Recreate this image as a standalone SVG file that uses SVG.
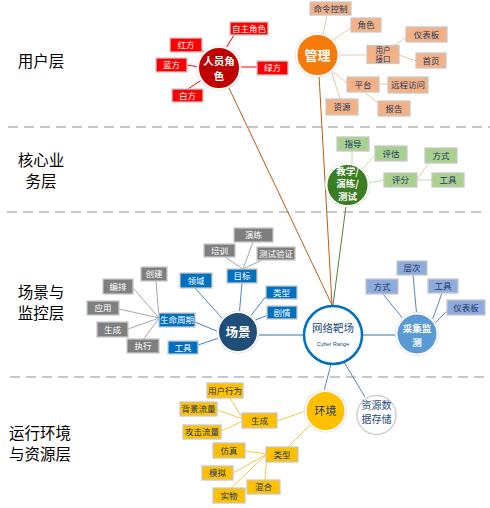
<svg xmlns="http://www.w3.org/2000/svg" width="490" height="508" viewBox="0 0 490 508">
<style>
text{font-family:"Noto Sans CJK SC","Noto Sans",sans-serif;text-anchor:middle}
.lay{font-size:15.5px;fill:#000}
.bt{font-size:8.5px}
.w{fill:#fff}
.d{fill:#203864}
.box{stroke:#c8c8c8;stroke-width:1.3}
.red{fill:#ff0000}.org{fill:#f4b183}.grn{fill:#a9d18e}.blu{fill:#0070c0}.gry{fill:#7f7f7f}.pur{fill:#8faadc}.yel{fill:#ffc000}
.halo{fill:#d4d4d4}
.cir{stroke:#fff;stroke-width:2}
.ct{font-size:10.5px;font-weight:bold}
.dash{stroke:#c8c8c8;stroke-width:2;stroke-dasharray:10 6;fill:none}
#connectors line{fill:none;stroke-width:1}
.lr{stroke:#ff0000}.lo{stroke:#e9c9ad}.lg{stroke:#c0dca8}.lb{stroke:#4a86c5}.lgy{stroke:#a6a6a6}.lp{stroke:#5b87b5}.ly{stroke:#f5c842}
.lbr{stroke:#c55a11}.lgd{stroke:#548235}.lm{stroke:#2e75b6}
</style>
<rect width="490" height="508" fill="#fff"/>
<g id="separators">
<line class="dash" x1="8" y1="127" x2="490" y2="127"/>
<line class="dash" x1="7" y1="212" x2="486" y2="212"/>
<line class="dash" x1="10" y1="377" x2="486" y2="377"/>
</g>
<g id="layer-labels">
<text class="lay" x="41" y="67">用户层</text>
<text class="lay" x="41" y="165.5">核心业</text>
<text class="lay" x="41" y="186.5">务层</text>
<text class="lay" x="41" y="298">场景与</text>
<text class="lay" x="41" y="319">监控层</text>
<text class="lay" x="40" y="438.5">运行环境</text>
<text class="lay" x="40" y="459.5">与资源层</text>
</g>
<g id="connectors">
<line class="lbr" x1="228" y1="86" x2="332" y2="305"/>
<line class="lbr" x1="319" y1="75" x2="332" y2="305"/>
<line class="lgd" x1="346" y1="206" x2="333" y2="305"/>
<line class="lr" x1="226" y1="48" x2="234" y2="35"/>
<line class="lr" x1="201" y1="48" x2="205" y2="55"/>
<line class="lr" x1="187" y1="65" x2="199" y2="67"/>
<line class="lr" x1="240" y1="67" x2="257" y2="67"/>
<line class="lr" x1="188" y1="89" x2="203" y2="79"/>
<line class="lo" x1="323" y1="35" x2="327" y2="15"/>
<line class="lo" x1="333" y1="40" x2="352" y2="27"/>
<line class="lo" x1="338" y1="55" x2="367" y2="55"/>
<line class="lo" x1="392" y1="47" x2="407" y2="37"/>
<line class="lo" x1="399" y1="55" x2="416" y2="61"/>
<line class="lo" x1="333" y1="72" x2="347" y2="83"/>
<line class="lo" x1="379" y1="84" x2="388" y2="84"/>
<line class="lo" x1="364" y1="92" x2="378" y2="103"/>
<line class="lo" x1="332" y1="73" x2="340" y2="99"/>
<line class="lg" x1="352" y1="164" x2="352" y2="151"/>
<line class="lg" x1="362" y1="169" x2="377" y2="153"/>
<line class="lg" x1="368" y1="183" x2="384" y2="180"/>
<line class="lg" x1="417" y1="179" x2="430" y2="162"/>
<line class="lg" x1="417" y1="180" x2="432" y2="180"/>
<line class="lb" x1="239" y1="317" x2="242" y2="283"/>
<line class="lb" x1="249" y1="318" x2="267" y2="295"/>
<line class="lb" x1="253" y1="321" x2="268" y2="315"/>
<line class="lb" x1="195" y1="288" x2="222" y2="318"/>
<line class="lb" x1="195" y1="322" x2="219" y2="332"/>
<line class="lb" x1="198" y1="345" x2="219" y2="338"/>
<line class="lm" x1="258" y1="335" x2="303" y2="335"/>
<line class="lgy" x1="243" y1="269" x2="225" y2="257"/>
<line class="lgy" x1="243" y1="269" x2="253" y2="242"/>
<line class="lgy" x1="243" y1="269" x2="262" y2="260"/>
<line class="lgy" x1="159" y1="318" x2="156" y2="281"/>
<line class="lgy" x1="159" y1="318" x2="133" y2="288"/>
<line class="lgy" x1="159" y1="318" x2="119" y2="309"/>
<line class="lgy" x1="159" y1="318" x2="128" y2="329"/>
<line class="lgy" x1="159" y1="318" x2="143" y2="340"/>
<line class="lm" x1="363" y1="335" x2="397" y2="335"/>
<line class="lp" x1="417" y1="318" x2="413" y2="275"/>
<line class="lp" x1="404" y1="320" x2="383" y2="294"/>
<line class="lp" x1="432" y1="321" x2="442" y2="293"/>
<line class="lp" x1="435" y1="323" x2="448" y2="310"/>
<line class="lp" x1="331" y1="364" x2="324" y2="391"/>
<line class="lp" x1="344" y1="362" x2="365" y2="397"/>
<line class="ly" x1="306" y1="411" x2="277" y2="421"/>
<line class="ly" x1="311" y1="424" x2="288" y2="447"/>
<line class="ly" x1="243" y1="419" x2="230" y2="398"/>
<line class="ly" x1="243" y1="419" x2="217" y2="410"/>
<line class="ly" x1="243" y1="421" x2="221" y2="431"/>
<line class="ly" x1="267" y1="454" x2="245" y2="451"/>
<line class="ly" x1="267" y1="454" x2="233" y2="473"/>
<line class="ly" x1="267" y1="454" x2="231" y2="488"/>
<line class="ly" x1="267" y1="454" x2="265" y2="480"/>
</g>
<g id="n-renyuan"><circle class="halo" cx="219" cy="68" r="22.5"/><circle class="cir" cx="219" cy="68" r="21" fill="#c00000"/><text class="ct w" x="219" y="65">人员角<tspan x="219" dy="14.5">色</tspan></text></g>
<g id="n-zizhu"><rect class="box red" x="230" y="22" width="38" height="13"/><text class="bt w" x="249" y="31.5">自主角色</text></g>
<g id="n-hongfang"><rect class="box red" x="170" y="38" width="32" height="14"/><text class="bt w" x="186" y="48">红方</text></g>
<g id="n-lanfang"><rect class="box red" x="156" y="58" width="31" height="14"/><text class="bt w" x="171.5" y="68">蓝方</text></g>
<g id="n-lvfang"><rect class="box red" x="257" y="61" width="31" height="14"/><text class="bt w" x="272.5" y="71">绿方</text></g>
<g id="n-baifang"><rect class="box red" x="172" y="89" width="31" height="13"/><text class="bt w" x="187.5" y="98.5">白方</text></g>

<g id="n-guanli"><circle class="halo" cx="317.5" cy="55" r="22.5"/><circle class="cir" cx="317.5" cy="55" r="21" fill="#f47a0a"/><text class="w" x="317.5" y="60" style="font-size:13px;font-weight:bold">管理</text></g>
<g id="n-mingling"><rect class="box org" x="310" y="2" width="41" height="13"/><text class="bt d" x="330.5" y="11.5">命令控制</text></g>
<g id="n-juese"><rect class="box org" x="351" y="18" width="30" height="14"/><text class="bt d" x="366" y="28">角色</text></g>
<g id="n-yonghujiekou"><rect class="box org" x="367" y="45.5" width="32" height="18"/><text class="d" x="383" y="52.8" style="font-size:7.5px">用户<tspan x="383" dy="9.5">接口</tspan></text></g>
<g id="n-yibiaoban1"><rect class="box org" x="406" y="27" width="41" height="15"/><text class="bt d" x="426.5" y="37.5">仪表板</text></g>
<g id="n-shouye"><rect class="box org" x="416" y="53" width="30" height="15"/><text class="bt d" x="431" y="63.5">首页</text></g>
<g id="n-pingtai"><rect class="box org" x="347" y="77" width="32" height="15"/><text class="bt d" x="363" y="87.5">平台</text></g>
<g id="n-yuancheng"><rect class="box org" x="388" y="77" width="40" height="16"/><text class="bt d" x="408" y="88">远程访问</text></g>
<g id="n-ziyuan"><rect class="box org" x="326" y="99" width="32" height="16"/><text class="bt d" x="342" y="110">资源</text></g>
<g id="n-baogao"><rect class="box org" x="378" y="101" width="32" height="15"/><text class="bt d" x="394" y="111.5">报告</text></g>

<g id="n-jiaoxue"><circle class="halo" cx="347.5" cy="185" r="22.5"/><circle class="cir" cx="347.5" cy="185" r="21" fill="#3a7d22"/><text class="w" x="347.5" y="174.5" style="font-size:9.5px;font-weight:bold">教学/<tspan x="347.5" dy="12.5">演练/</tspan><tspan x="347.5" dy="12.5">测试</tspan></text></g>
<g id="n-zhidao"><rect class="box grn" x="337" y="137" width="32" height="14"/><text class="bt d" x="353" y="147">指导</text></g>
<g id="n-pinggu"><rect class="box grn" x="375" y="146" width="32" height="15"/><text class="bt d" x="391" y="156.5">评估</text></g>
<g id="n-fangshi1"><rect class="box grn" x="425" y="148" width="32" height="15"/><text class="bt d" x="441" y="158.5">方式</text></g>
<g id="n-pingfen"><rect class="box grn" x="384" y="173" width="33" height="14"/><text class="bt d" x="400.5" y="183">评分</text></g>
<g id="n-gongju1"><rect class="box grn" x="432" y="173" width="32" height="14"/><text class="bt d" x="448" y="183">工具</text></g>

<g id="n-changjing"><circle class="halo" cx="238" cy="332" r="21.5"/><circle class="cir" cx="238" cy="332" r="20" fill="#1f4e79"/><text class="w" x="238" y="336.5" style="font-size:12.5px;font-weight:bold">场景</text></g>
<g id="n-mubiao"><rect class="box blu" x="227" y="269" width="30" height="14"/><text class="bt w" x="242" y="279">目标</text></g>
<g id="n-leixing1"><rect class="box blu" x="266" y="286" width="31" height="13"/><text class="bt w" x="281.5" y="295.5">类型</text></g>
<g id="n-juqing"><rect class="box blu" x="267" y="306" width="30" height="13"/><text class="bt w" x="282" y="315.5">剧情</text></g>
<g id="n-lingyu"><rect class="box blu" x="180" y="273" width="32" height="15"/><text class="bt w" x="196" y="283.5">领域</text></g>
<g id="n-shengming"><rect class="box blu" x="159" y="313" width="36" height="14"/><text class="bt w" x="177" y="323">生命周期</text></g>
<g id="n-gongju2"><rect class="box blu" x="168" y="341" width="30" height="13"/><text class="bt w" x="183" y="350.5">工具</text></g>
<g id="n-peixun"><rect class="box gry" x="204" y="244" width="31" height="13"/><text class="bt w" x="219.5" y="253.5">培训</text></g>
<g id="n-yanlian"><rect class="box gry" x="234" y="228" width="39" height="14"/><text class="bt w" x="253.5" y="238">演练</text></g>
<g id="n-ceshi"><rect class="box gry" x="257" y="247" width="38" height="13"/><text class="bt w" x="276" y="256.5">测试验证</text></g>
<g id="n-chuangjian"><rect class="box gry" x="141" y="267" width="26" height="14"/><text class="bt w" x="154" y="277">创建</text></g>
<g id="n-bianpai"><rect class="box gry" x="103" y="279" width="30" height="15"/><text class="bt w" x="118" y="289.5">编排</text></g>
<g id="n-yingyong"><rect class="box gry" x="87" y="301" width="32" height="14"/><text class="bt w" x="103" y="311">应用</text></g>
<g id="n-shengcheng1"><rect class="box gry" x="97" y="322" width="31" height="15"/><text class="bt w" x="112.5" y="332.5">生成</text></g>
<g id="n-zhixing"><rect class="box gry" x="127" y="339" width="32" height="14"/><text class="bt w" x="143" y="349">执行</text></g>

<g id="n-wangluo"><circle cx="333" cy="335" r="29" fill="#fff" stroke="#0070c0" stroke-width="2.5"/><text x="333" y="331.5" style="font-size:10.5px" fill="#1f4e79">网络靶场</text><text x="333" y="346" style="font-size:5.5px;font-family:'Liberation Sans',sans-serif" fill="#1f4e79">Cyber Range</text></g>

<g id="n-caiji"><circle class="halo" cx="417" cy="334" r="22"/><circle class="cir" cx="417" cy="334" r="20.5" fill="#5b9bd5"/><text class="w" x="417" y="332" style="font-size:9.5px;font-weight:bold">采集监<tspan x="417" dy="13.5">测</tspan></text></g>
<g id="n-cengci"><rect class="box pur" x="397" y="261" width="30" height="14"/><text class="bt d" x="412" y="271">层次</text></g>
<g id="n-fangshi2"><rect class="box pur" x="366" y="279" width="32" height="15"/><text class="bt d" x="382" y="289.5">方式</text></g>
<g id="n-gongju3"><rect class="box pur" x="428" y="279" width="30" height="14"/><text class="bt d" x="443" y="289">工具</text></g>
<g id="n-yibiaoban2"><rect class="box pur" x="447" y="300" width="38" height="15"/><text class="bt d" x="466" y="310.5">仪表板</text></g>

<g id="n-huanjing"><circle class="halo" cx="325.5" cy="411" r="21.5"/><circle class="cir" cx="325.5" cy="411" r="20" fill="#ffc000"/><text class="d" x="325.5" y="415" style="font-size:11px">环境</text></g>
<g id="n-cunchu"><circle cx="376.5" cy="415" r="19.5" fill="#fff" stroke="#d0d0d0" stroke-width="1.5"/><text x="376.5" y="409" style="font-size:10px" fill="#1f4e79">资源数<tspan x="376.5" dy="13.5">据存储</tspan></text></g>
<g id="n-yonghuxingwei"><rect class="box yel" x="207" y="383" width="36" height="15"/><text class="bt d" x="225" y="393.5">用户行为</text></g>
<g id="n-beijing"><rect class="box yel" x="180" y="402" width="37" height="14"/><text class="bt d" x="198.5" y="412">背景流量</text></g>
<g id="n-shengcheng2"><rect class="box yel" x="242" y="413" width="35" height="15"/><text class="bt d" x="259.5" y="423.5">生成</text></g>
<g id="n-gongji"><rect class="box yel" x="183" y="425" width="38" height="14"/><text class="bt d" x="202" y="435">攻击流量</text></g>
<g id="n-fangzhen"><rect class="box yel" x="213" y="443" width="32" height="15"/><text class="bt d" x="229" y="453.5">仿真</text></g>
<g id="n-leixing2"><rect class="box yel" x="266" y="447" width="32" height="15"/><text class="bt d" x="282" y="457.5">类型</text></g>
<g id="n-moni"><rect class="box yel" x="202" y="466" width="31" height="14"/><text class="bt d" x="217.5" y="476">模拟</text></g>
<g id="n-hunhe"><rect class="box yel" x="247" y="480" width="33" height="14"/><text class="bt d" x="263.5" y="490">混合</text></g>
<g id="n-shiwu"><rect class="box yel" x="213" y="488" width="32" height="15"/><text class="bt d" x="229" y="498.5">实物</text></g>
</svg>
